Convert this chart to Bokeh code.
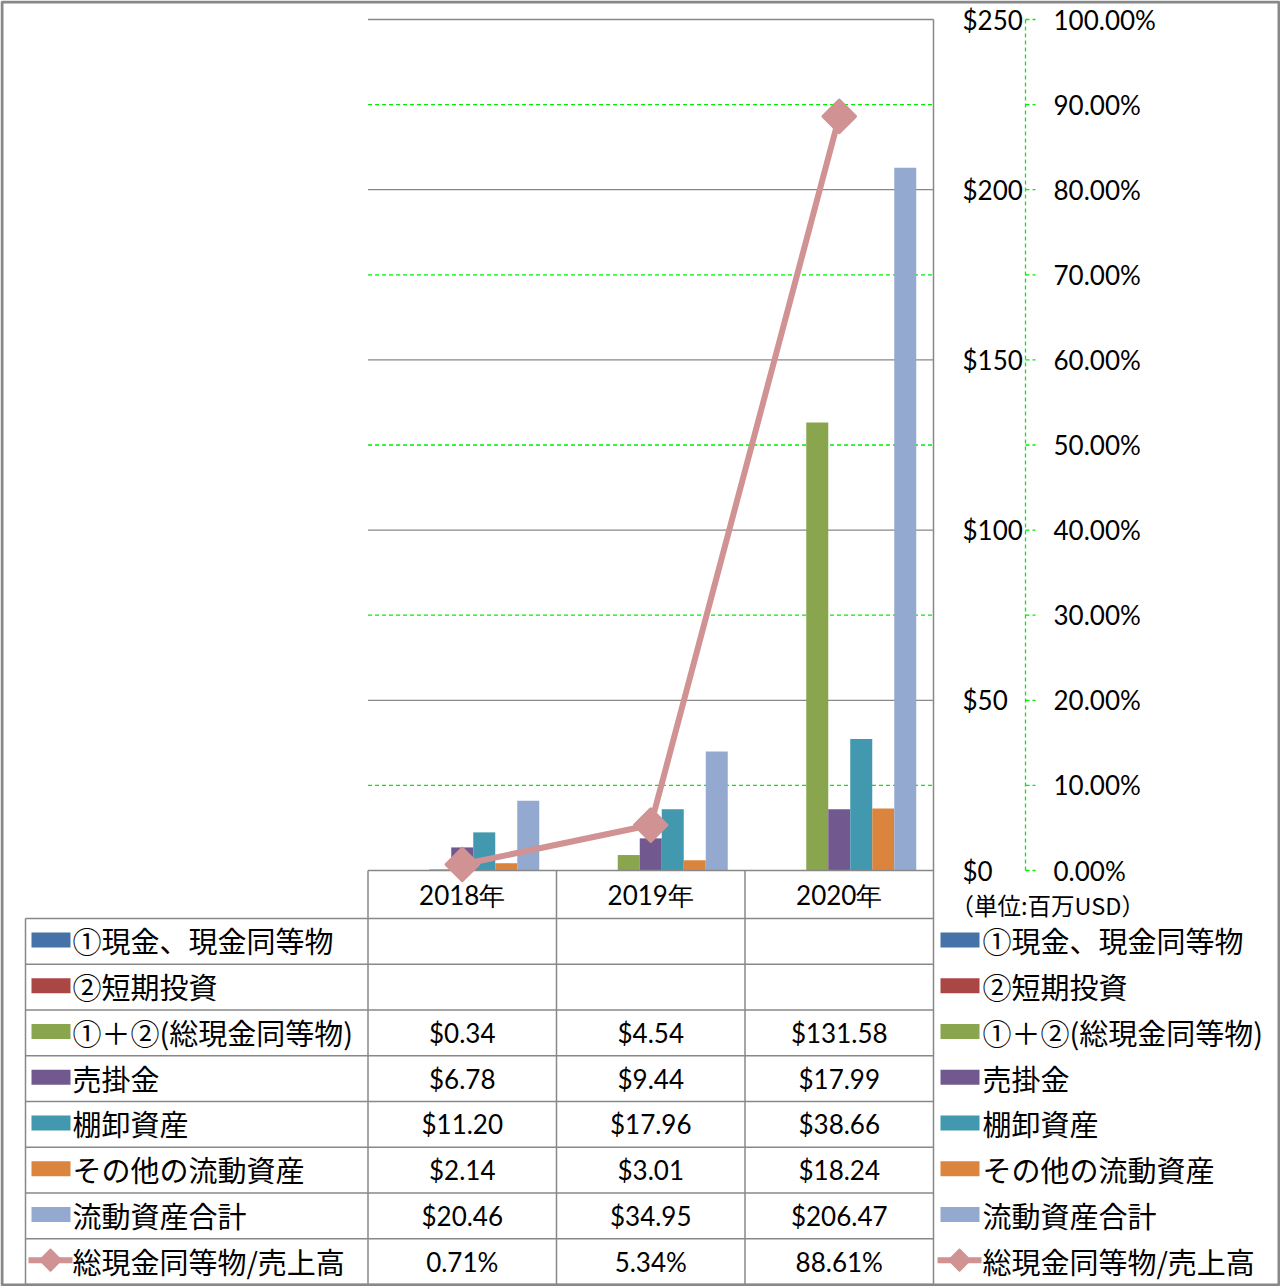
import math
from bokeh.plotting import figure
from bokeh.models import Range1d
from bokeh.core.properties import value
from bokeh.embed import file_html
from bokeh.resources import INLINE

# ---------------- data ----------------
categories = ["2018年", "2019年", "2020年"]
series_names = ["①現金、現金同等物", "②短期投資", "①＋②(総現金同等物)", "売掛金",
                "棚卸資産", "その他の流動資産", "流動資産合計"]
cash = [None, None, None]
short_term = [None, None, None]
total_cash = [0.34, 4.54, 131.58]
receivables = [6.78, 9.44, 17.99]
inventory = [11.20, 17.96, 38.66]
other_current = [2.14, 3.01, 18.24]
current_total = [20.46, 34.95, 206.47]
line_name = "総現金同等物/売上高"
cash_to_sales = [0.71, 5.34, 88.61]          # percent
usd_ticks = [0, 50, 100, 150, 200, 250]
pct_ticks = [0, 10, 20, 30, 40, 50, 60, 70, 80, 90, 100]
usd_labels = ["$%d" % t for t in usd_ticks]
pct_labels = ["%.2f%%" % t for t in pct_ticks]
unit_label = "（単位:百万USD）"

series_values = [cash, short_term, total_cash, receivables, inventory, other_current, current_total]

# ---------------- style ----------------
colors = ["#4572A7", "#AA4643", "#89A54E", "#71588F", "#4198AF", "#DB843D", "#93A9CF"]
line_color = "#D09293"
grid_gray = "#888888"
green = "#00EE00"
NUM_FONT = value("Lato")
JP_FONT = value("Noto Sans CJK JP")

W, H = 1280, 1286
PL, PR, PT, PB = 367.5, 933.0, 19.0, 870.0
cat_px = (PR - PL) / 3.0
ymax = 250.0
ppu = (PB - PT) / ymax
y_lo = -(H - PB) / ppu
y_hi = ymax + PT / ppu

p = figure(width=W, height=H, output_backend="svg", toolbar_location=None,
           x_axis_location=None, y_axis_location=None, min_border=0,
           x_range=Range1d(-0.5 - PL / cat_px, 2.5 + (W - PR) / cat_px),
           y_range=Range1d(y_lo, y_hi), outline_line_color=None)
p.extra_y_ranges = {"pct": Range1d(y_lo * 100 / ymax, y_hi * 100 / ymax),
                    "px": Range1d(H, 0)}
p.extra_x_ranges = {"px": Range1d(0, W)}
p.xgrid.visible = False
p.ygrid.visible = False
p.background_fill_color = "white"
p.border_fill_color = "white"

# ---------------- gridlines ----------------
p.segment(x0=[-0.5] * 5, x1=[2.5] * 5, y0=usd_ticks[1:], y1=usd_ticks[1:],
          line_color=grid_gray, line_width=1.3)
odd = [t for t in pct_ticks if t % 20 == 10]
p.segment(x0=[-0.5] * len(odd), x1=[2.5] * len(odd), y0=odd, y1=odd,
          y_range_name="pct", line_color=green, line_width=1.3, line_dash="4 3")

# ---------------- bars ----------------
bw = 22.0 / cat_px
for k, vals in enumerate(series_values):
    xs = [i + (k - 3) * bw for i, v in enumerate(vals) if v is not None]
    tops = [v for v in vals if v is not None]
    if xs:
        p.vbar(x=xs, top=tops, bottom=0, width=bw, fill_color=colors[k], line_color=None)

# ---------------- table lines ----------------
row_top = 918.0
row_h = (1284.0 - row_top) / 8
row_edges = [row_top + r * row_h for r in range(9)]
row_centers = [row_top + (r + 0.5) * row_h for r in range(8)]
# axis line at $0
p.segment(x0=[-0.5], x1=[2.5], y0=[0], y1=[0], line_color=grid_gray, line_width=1.5)
# horizontal table lines (px coords)
p.segment(x0=[25] * 9, x1=[PR] * 9, y0=row_edges, y1=row_edges,
          x_range_name="px", y_range_name="px", line_color=grid_gray, line_width=1.5)
# vertical lines at category boundaries
p.segment(x0=[-0.5, 0.5, 1.5], x1=[-0.5, 0.5, 1.5], y0=[PB] * 3, y1=[1284] * 3,
          y_range_name="px", line_color=grid_gray, line_width=1.5)
p.segment(x0=[2.5], x1=[2.5], y0=[PT], y1=[1284], y_range_name="px",
          line_color=grid_gray, line_width=1.5)
p.segment(x0=[25], x1=[25], y0=[row_top], y1=[1284], x_range_name="px",
          y_range_name="px", line_color=grid_gray, line_width=1.5)

# ---------------- line series ----------------
p.line(x=[0, 1, 2], y=cash_to_sales, y_range_name="pct", line_color=line_color,
       line_width=6)
p.scatter(x=[0, 1, 2], y=cash_to_sales, y_range_name="pct", marker="square",
          angle=math.pi / 4, size=23, fill_color=line_color, line_color=line_color,
          line_width=3, line_join="round")

# ---------------- right axes ----------------
p.text(x=[962] * len(usd_ticks), y=usd_ticks, text=usd_labels, x_range_name="px",
       text_font=NUM_FONT, text_font_size="26px", text_align="left",
       text_baseline="middle", text_color="black")
p.segment(x0=[1025], x1=[1025], y0=[0], y1=[100], x_range_name="px", y_range_name="pct",
          line_color=green, line_width=1.3, line_dash="4 3")
p.segment(x0=[1025] * len(pct_ticks), x1=[1035] * len(pct_ticks), y0=pct_ticks,
          y1=pct_ticks, x_range_name="px", y_range_name="pct",
          line_color=green, line_width=1.3, line_dash="4 3")
p.text(x=[1053] * len(pct_ticks), y=pct_ticks, text=pct_labels, x_range_name="px",
       y_range_name="pct", text_font=NUM_FONT, text_font_size="26px",
       text_align="left", text_baseline="middle", text_color="black")
p.text(x=[950], y=[904], text=[unit_label], x_range_name="px", y_range_name="px",
       text_font=JP_FONT, text_font_size="23.5px", text_align="left",
       text_baseline="middle", text_color="black")

# ---------------- category header ----------------
p.text(x=[0, 1, 2], y=[894] * 3, text=categories, y_range_name="px",
       text_font=NUM_FONT, text_font_size="26px", text_align="center",
       text_baseline="middle", text_color="black")

# ---------------- table values ----------------
cx, cy, ct = [], [], []
for r, vals in enumerate(series_values):
    for i, v in enumerate(vals):
        if v is not None:
            cx.append(i); cy.append(row_centers[r]); ct.append("$%.2f" % v)
for i, v in enumerate(cash_to_sales):
    cx.append(i); cy.append(row_centers[7]); ct.append("%.2f%%" % v)
p.text(x=cx, y=cy, text=ct, y_range_name="px", text_font=NUM_FONT,
       text_font_size="26px", text_align="center", text_baseline="middle",
       text_color="black")

# ---------------- legends (left in table, right outside) ----------------
names = series_names + [line_name]
for key_x0, text_x in [(31, 72), (940, 982)]:
    p.quad(left=[key_x0] * 7, right=[key_x0 + 39] * 7,
           top=[c - 9 for c in row_centers[:7]], bottom=[c + 6 for c in row_centers[:7]],
           x_range_name="px", y_range_name="px", fill_color=colors, line_color=None)
    lc = row_centers[7] - 1.5
    p.segment(x0=[key_x0 - 3], x1=[key_x0 + 41], y0=[lc], y1=[lc], x_range_name="px",
              y_range_name="px", line_color=line_color, line_width=6)
    p.scatter(x=[key_x0 + 19], y=[lc], x_range_name="px", y_range_name="px",
              marker="square", angle=math.pi / 4, size=15, fill_color=line_color,
              line_color=line_color, line_width=2, line_join="round")
    p.text(x=[text_x] * 8, y=[c - 1 for c in row_centers], text=names,
           x_range_name="px", y_range_name="px", text_font=JP_FONT,
           text_font_size="29px", text_align="left", text_baseline="middle",
           text_color="black")

# ---------------- outer border ----------------
p.quad(left=[1.5], right=[W - 1.5], top=[1.5], bottom=[H - 1.5], x_range_name="px",
       y_range_name="px", fill_alpha=0, line_color=grid_gray, line_width=3)

open("out.html", "w").write(file_html(p, INLINE))
